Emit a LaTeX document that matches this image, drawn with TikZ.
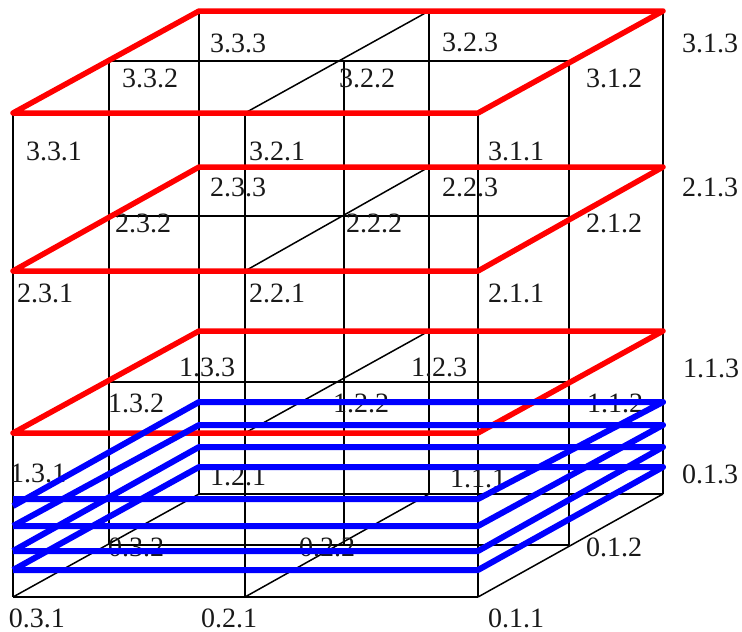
\documentclass[tikz,border=0pt]{standalone}
\usepackage{fontspec}
\setmainfont{Liberation Serif}
\begin{document}
\begin{tikzpicture}[x=1pt,y=-1pt,
  grid/.style={black, line width=1.5pt},
  redplane/.style={red, line width=5.5pt, line join=round},
  blueplane/.style={blue, line width=6pt, line join=round},
  lbl/.style={font=\fontsize{28}{30}\selectfont, inner sep=0pt, text=black!90}]
\useasboundingbox (0,0) rectangle (742,632);
% grid points p<level><column><depth>
\foreach \d/\xa/\xb/\xc/\ya/\yb/\yc/\yd in
  {1/478/245/13/597/433/271/113, 2/569/344/109/545/382/216/61, 3/663/429/199/494/331/167/11}{
  \foreach \L/\yy in {0/\ya,1/\yb,2/\yc,3/\yd}{
    \coordinate (p\L1\d) at (\xa,\yy);
    \coordinate (p\L2\d) at (\xb,\yy);
    \coordinate (p\L3\d) at (\xc,\yy);
  }
}
% black grid
\foreach \c in {1,2,3}{\foreach \d in {1,2,3}{\draw[grid] (p3\c\d) -- (p0\c\d);}}
\foreach \L in {0,1,2,3}{\foreach \d in {1,2,3}{\draw[grid] (p\L3\d) -- (p\L1\d);}}
\foreach \L in {0,1,2,3}{\foreach \c in {1,2,3}{\draw[grid] (p\L\c1) -- (p\L\c3);}}
% labels
\foreach \n/\t/\x/\y in {333/3.3.3/238/43, 323/3.2.3/470/42, 313/3.1.3/710/43,
  332/3.3.2/150/78, 322/3.2.2/367/78, 312/3.1.2/614/78,
  331/3.3.1/54/151, 321/3.2.1/277/151, 311/3.1.1/516/151,
  233/2.3.3/238/187, 223/2.2.3/470/187, 213/2.1.3/710/187,
  232/2.3.2/143/223, 222/2.2.2/374/223, 212/2.1.2/614/223,
  231/2.3.1/45/293, 221/2.2.1/277/293, 211/2.1.1/516/293,
  133/1.3.3/207/367, 123/1.2.3/439/367, 113/1.1.3/711/368,
  132/1.3.2/136/403, 122/1.2.2/361/403, 112/1.1.2/615/403,
  131/1.3.1/38/473, 121/1.2.1/238/476, 111/1.1.1/478/478, 013/0.1.3/710/474,
  032/0.3.2/136/547, 022/0.2.2/327/547, 012/0.1.2/614/547,
  031/0.3.1/37/618, 021/0.2.1/229/618, 011/0.1.1/516/618}{
  \node[lbl] (l\n) at (\x,\y) {\t};
}
% red planes
\foreach \L in {1,2,3}{\draw[redplane] (p\L31) -- (p\L33) -- (p\L13) -- (p\L11) -- cycle;}
% blue planes
\foreach \i/\f/\b/\s in {1/499/402/506, 2/526/425/526, 3/551/447/551, 4/570/467/570}{
  \coordinate (bfl\i) at (13,\f);
  \coordinate (bsl\i) at (13,\s);
  \coordinate (bfr\i) at (478,\f);
  \coordinate (bbl\i) at (199,\b);
  \coordinate (bbr\i) at (663,\b);
  \draw[blueplane] (bsl\i) -- (bbl\i) -- (bbr\i) -- (bfr\i) -- (bfl\i);
}
\end{tikzpicture}
\end{document}
